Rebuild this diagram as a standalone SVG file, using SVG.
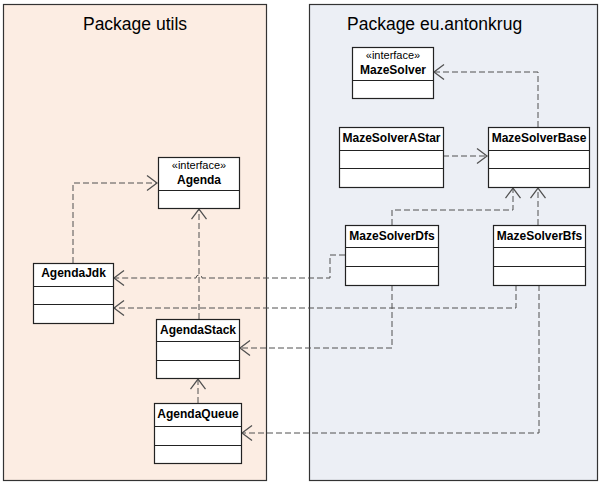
<svg xmlns="http://www.w3.org/2000/svg" width="604" height="486" viewBox="0 0 604 486">
<style>
.pkg-title{font-family:"Liberation Sans",Arial,sans-serif;font-size:17.5px;fill:#000}
.box{fill:#fff;stroke:#222;stroke-width:1.2}
.div{stroke:#222;stroke-width:1.2}
.name{font-family:"Liberation Sans",Arial,sans-serif;font-size:12px;font-weight:bold;fill:#000;text-anchor:middle}
.stereo{font-family:"Liberation Sans",Arial,sans-serif;font-size:11px;fill:#000;text-anchor:middle}
.dep{fill:none;stroke:#505050;stroke-width:1;stroke-dasharray:6,3;marker-end:url(#open)}
</style>
<defs>
<marker id="open" markerUnits="userSpaceOnUse" markerWidth="20" markerHeight="20" viewBox="-10 -8 12 16" refX="0" refY="0" orient="auto" overflow="visible">
<path d="M-8,-6 L0,0 L-8,6" fill="none" stroke="#505050" stroke-width="1"/>
</marker>
</defs>
<g id="pkg-utils">
<rect x="3.5" y="4.5" width="263" height="476" fill="#fcede3" stroke="#333" stroke-width="1.2"/>
<text class="pkg-title" x="135" y="30" text-anchor="middle">Package utils</text>
</g>
<g id="pkg-eu">
<rect x="309.5" y="4.5" width="288" height="476" fill="#eceff5" stroke="#333" stroke-width="1.2"/>
<text class="pkg-title" x="347" y="30">Package eu.antonkrug</text>
</g>
<g id="connectors">
<path class="dep" d="M538,127 L538,72 L434,72"/>
<path class="dep" d="M443,156 L487,156"/>
<path class="dep" d="M392,225 L392,210 L513,210 L513,188"/>
<path class="dep" d="M538,225 L538,188"/>
<path class="dep" d="M345,255 L330,255 L330,278 L202,278 A3,3 0 0 0 196,278 L114,278"/>
<path class="dep" d="M516,285 L516,308 L114,308"/>
<path class="dep" d="M392,285 L392,348 L240,348"/>
<path class="dep" d="M539,285 L539,433 L242,433"/>
<path class="dep" d="M198,403 L198,379"/>
<path class="dep" d="M199,319 L199,209"/>
<path class="dep" d="M73,263 L73,183 L157,183"/>
</g>
<g id="MazeSolver">
<rect class="box" x="352.5" y="47.5" width="81" height="51"/>
<line class="div" x1="352.5" y1="80.5" x2="433.5" y2="80.5"/>
<text class="stereo" x="393" y="59">«interface»</text>
<text class="name" x="393" y="74">MazeSolver</text>
</g>
<g id="MazeSolverAStar">
<rect class="box" x="339.5" y="127.5" width="104" height="60"/>
<line class="div" x1="339.5" y1="150.5" x2="443.5" y2="150.5"/>
<line class="div" x1="339.5" y1="168.5" x2="443.5" y2="168.5"/>
<text class="name" x="391.5" y="142">MazeSolverAStar</text>
</g>
<g id="MazeSolverBase">
<rect class="box" x="488.5" y="127.5" width="101" height="60"/>
<line class="div" x1="488.5" y1="150.5" x2="589.5" y2="150.5"/>
<line class="div" x1="488.5" y1="168.5" x2="589.5" y2="168.5"/>
<text class="name" x="539" y="142">MazeSolverBase</text>
</g>
<g id="MazeSolverDfs">
<rect class="box" x="345.5" y="225.5" width="93" height="60"/>
<line class="div" x1="345.5" y1="247.5" x2="438.5" y2="247.5"/>
<line class="div" x1="345.5" y1="266.5" x2="438.5" y2="266.5"/>
<text class="name" x="392" y="240">MazeSolverDfs</text>
</g>
<g id="MazeSolverBfs">
<rect class="box" x="493.5" y="225.5" width="92" height="60"/>
<line class="div" x1="493.5" y1="247.5" x2="585.5" y2="247.5"/>
<line class="div" x1="493.5" y1="266.5" x2="585.5" y2="266.5"/>
<text class="name" x="539.5" y="240">MazeSolverBfs</text>
</g>
<g id="Agenda">
<rect class="box" x="158.5" y="157.5" width="81" height="51"/>
<line class="div" x1="158.5" y1="190.5" x2="239.5" y2="190.5"/>
<text class="stereo" x="199" y="169">«interface»</text>
<text class="name" x="199" y="184">Agenda</text>
</g>
<g id="AgendaJdk">
<rect class="box" x="33.5" y="263.5" width="80" height="60"/>
<line class="div" x1="33.5" y1="286.5" x2="113.5" y2="286.5"/>
<line class="div" x1="33.5" y1="304.5" x2="113.5" y2="304.5"/>
<text class="name" x="73.5" y="277">AgendaJdk</text>
</g>
<g id="AgendaStack">
<rect class="box" x="156.5" y="319.5" width="83" height="59"/>
<line class="div" x1="156.5" y1="341.5" x2="239.5" y2="341.5"/>
<line class="div" x1="156.5" y1="360.5" x2="239.5" y2="360.5"/>
<text class="name" x="198" y="334">AgendaStack</text>
</g>
<g id="AgendaQueue">
<rect class="box" x="154.5" y="403.5" width="87" height="60"/>
<line class="div" x1="154.5" y1="426.5" x2="241.5" y2="426.5"/>
<line class="div" x1="154.5" y1="445.5" x2="241.5" y2="445.5"/>
<text class="name" x="198" y="418">AgendaQueue</text>
</g>
</svg>
